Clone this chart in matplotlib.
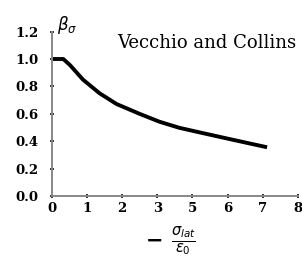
import matplotlib
matplotlib.use("Agg")
import matplotlib.pyplot as plt

# curve (x in tick-position units)
x_vals = [0.0, 0.33, 0.52, 0.89, 1.36, 1.84, 2.49,
          3.06, 3.62, 4.19, 4.75, 5.60, 6.12]
beta_vals = [1.0, 1.0, 0.956, 0.850, 0.751, 0.673, 0.602,
             0.544, 0.500, 0.467, 0.435, 0.387, 0.358]

x_ticks = [0, 1, 2, 3, 4, 5, 6, 7]
x_ticklabels = ["0", "1", "2", "3", "5", "6", "7", "8"]
y_ticks = [0.0, 0.2, 0.4, 0.6, 0.8, 1.0, 1.2]
y_ticklabels = ["0.0", "0.2", "0.4", "0.6", "0.8", "1.0", "1.2"]

fig = plt.figure(figsize=(3.02, 2.58), dpi=100)
ax = fig.add_axes([0.171, 0.2384, 0.816, 0.6395])

ax.plot(x_vals, beta_vals, color="black", lw=2.8, solid_joinstyle="round",
        solid_capstyle="butt")

ax.set_xlim(0, 7)
ax.set_ylim(0, 1.2)
ax.set_xticks(x_ticks)
ax.set_xticklabels(x_ticklabels)
ax.set_yticks(y_ticks)
ax.set_yticklabels(y_ticklabels)

for s in ["top", "right"]:
    ax.spines[s].set_visible(False)
for s in ["left", "bottom"]:
    ax.spines[s].set_color("#888888")
    ax.spines[s].set_linewidth(1.4)

ax.tick_params(direction="inout", length=2.5, width=1.4, color="#333333",
               labelsize=9.5, pad=2.5)
ax.tick_params(axis="y", pad=8)
for lab in ax.get_xticklabels() + ax.get_yticklabels():
    lab.set_fontfamily("DejaVu Serif")
    lab.set_fontweight("bold")

ax.text(1.87, 1.12, "Vecchio and Collins", fontsize=13, family="DejaVu Serif",
        ha="left", va="center")

fig.text(0.19, 0.905, r"$\beta_\sigma$", fontsize=12, ha="left", va="center")
fig.text(0.51, 0.072, r"$\mathbf{-}$", fontsize=15, ha="center", va="center")
fig.text(0.606, 0.066, r"$\frac{\sigma_{lat}}{\varepsilon_0}$", fontsize=15,
         ha="center", va="center")

fig.savefig("out.png", dpi=100)
